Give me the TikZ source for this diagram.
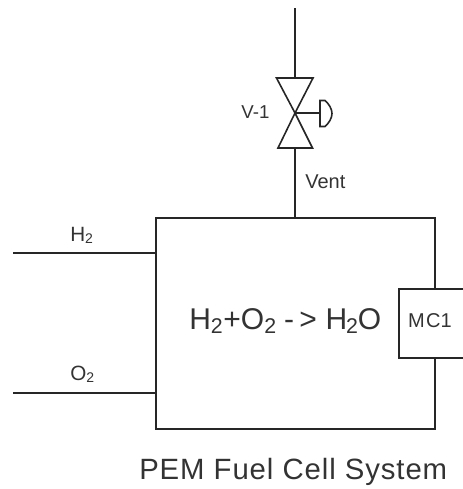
\documentclass[tikz,border=0pt]{standalone}
\usepackage{fontspec}
\setmainfont{Liberation Sans}
\newfontfamily\spaced[LetterSpace=3.1]{Liberation Sans}
\tikzset{
  pipe/.style={draw=black!85,line width=1.5pt,line join=miter},
  thinpipe/.style={pipe,line width=1.2pt},
  lab/.style={inner sep=0pt,text=black!80,font=\fontsize{12}{14}\selectfont},
}
\newcommand{\bigsub}{\raisebox{-3pt}{\fontsize{16}{17}\selectfont 2}}
\newcommand{\smallsub}{\raisebox{-1.5pt}{\fontsize{10.5}{11}\selectfont 2}}
\begin{document}
\begin{tikzpicture}[x=0.75pt,y=-0.75pt]
\useasboundingbox (0,0) rectangle (463,489);
\node[minimum width=209.25pt,minimum height=158.25pt,inner sep=0pt,pipe,anchor=north west] (cell) at (154.5,216.5) {};
\node[minimum width=48.5pt,minimum height=51.5pt,inner sep=0pt,pipe,fill=white,anchor=north west] (mc) at (398,288) {};
\node[lab] at (430,321) {\fontsize{15}{16}\selectfont M\kern1pt C1};
\coordinate (vc) at (295,113);
\coordinate (vtop) at (295,78);
\coordinate (vbot) at (295,148);
\coordinate (ptop) at (295,8);
\coordinate (pbot) at (295,217);
\draw[pipe] (ptop) -- (vtop);
\draw[pipe] (vbot) -- (pbot);
\draw[thinpipe] (276.5,78) -- (313,78) -- (vc) -- cycle;
\draw[thinpipe] (278,148) -- (312.5,148) -- (vc) -- cycle;
\coordinate (act) at (320,113);
\draw[thinpipe] (vc) -- (act);
\draw[thinpipe] (320,100.5) -- (320,126.5) -- (325,126.5) .. controls (329,123) and (332,118) .. (332,113.5) .. controls (332,109) and (329,104) .. (325,100.5) -- cycle;
\node[lab] at (255.5,112) {\fontsize{14}{16}\selectfont V-1};
\node[lab,anchor=west] at (305,182) {\fontsize{15}{16}\selectfont Vent};
\coordinate (h2s) at (13,253);
\coordinate (o2s) at (13,393);
\draw[pipe] (h2s) -- (155.5,253);
\draw[pipe] (o2s) -- (155.5,393);
\node[lab,anchor=west] at (70,235) {\fontsize{15.5}{17}\selectfont H\smallsub};
\node[lab,anchor=west] at (70,374) {\fontsize{15.5}{17}\selectfont O\smallsub};
\node[lab,anchor=west] at (189,321) {\fontsize{22.5}{24}\selectfont H\bigsub\kern0.5pt+O\bigsub\kern6pt-\kern4pt>\kern6.5pt H\kern-1pt\bigsub\kern0pt O};
\node[lab,anchor=west] at (139,472) {\fontsize{22}{24}\spaced PEM Fuel Cell System};
\end{tikzpicture}
\end{document}
